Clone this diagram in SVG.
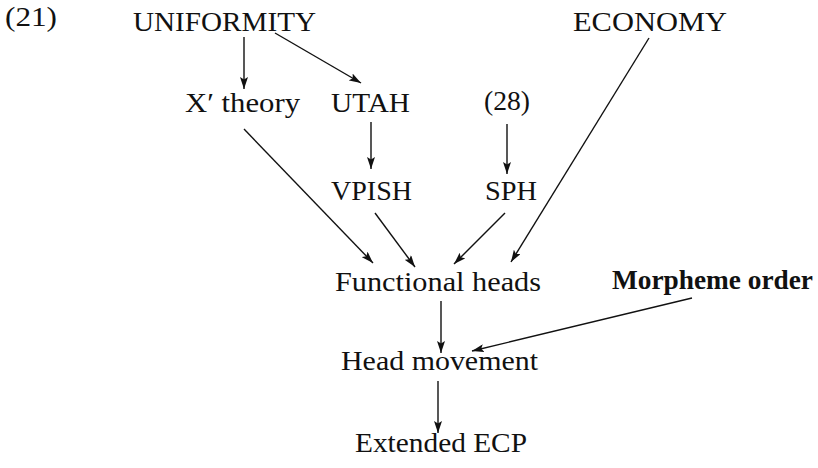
<svg xmlns="http://www.w3.org/2000/svg" width="818" height="468" viewBox="0 0 818 468">
  <style>
    text { font-family: "Liberation Serif", "DejaVu Serif", serif; font-size: 27px; fill: #111; }
    .b { font-weight: bold; }
    .c line { stroke: #111; stroke-width: 1.4; marker-end: url(#ah); }
  </style>
  <defs>
    <marker id="ah" viewBox="0 0 12 8" refX="12" refY="4" markerWidth="12" markerHeight="8" markerUnits="userSpaceOnUse" orient="auto">
      <path d="M0,0 L12,4 L0,8 L2.5,4 Z" fill="#111"/>
    </marker>
  </defs>

  <text x="5" y="26" textLength="52" lengthAdjust="spacingAndGlyphs">(21)</text>

  <g id="uniformity"><text x="133" y="31" textLength="183" lengthAdjust="spacingAndGlyphs">UNIFORMITY</text></g>
  <g id="economy"><text x="573" y="31" textLength="154" lengthAdjust="spacingAndGlyphs">ECONOMY</text></g>
  <g id="xbar"><text x="185" y="112" textLength="115" lengthAdjust="spacingAndGlyphs">X′ theory</text></g>
  <g id="utah"><text x="331" y="112" textLength="79" lengthAdjust="spacingAndGlyphs">UTAH</text></g>
  <g id="ref28"><text x="484" y="110" textLength="46" lengthAdjust="spacingAndGlyphs">(28)</text></g>
  <g id="vpish"><text x="331" y="200" textLength="81" lengthAdjust="spacingAndGlyphs">VPISH</text></g>
  <g id="sph"><text x="485" y="200" textLength="52" lengthAdjust="spacingAndGlyphs">SPH</text></g>
  <g id="functional-heads"><text x="335" y="291" textLength="206" lengthAdjust="spacingAndGlyphs">Functional heads</text></g>
  <g id="morpheme-order"><text class="b" x="612" y="289" textLength="201" lengthAdjust="spacingAndGlyphs">Morpheme order</text></g>
  <g id="head-movement"><text x="341" y="370" textLength="197" lengthAdjust="spacingAndGlyphs">Head movement</text></g>
  <g id="extended-ecp"><text x="355" y="452" textLength="172" lengthAdjust="spacingAndGlyphs">Extended ECP</text></g>

  <g id="connectors" class="c">
    <line x1="244" y1="37" x2="244" y2="89"/>
    <line x1="275" y1="33" x2="361" y2="83"/>
    <line x1="244" y1="129" x2="373" y2="263"/>
    <line x1="371" y1="122" x2="371" y2="169"/>
    <line x1="507" y1="124" x2="507" y2="174"/>
    <line x1="375" y1="213" x2="415" y2="267"/>
    <line x1="505" y1="213" x2="454" y2="264"/>
    <line x1="649" y1="38" x2="511" y2="262"/>
    <line x1="441" y1="301" x2="441" y2="353"/>
    <line x1="692" y1="298" x2="472" y2="351"/>
    <line x1="438" y1="381" x2="438" y2="433"/>
  </g>
</svg>
